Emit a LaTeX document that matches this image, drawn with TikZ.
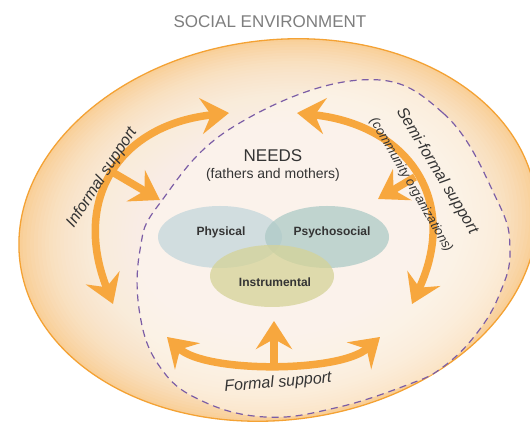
\documentclass[tikz,border=0pt]{standalone}
\usepackage{fontspec}
\setmainfont{Liberation Sans}
\usetikzlibrary{arrows.meta}

\definecolor{envline}{HTML}{F4A234}
\definecolor{envedge}{HTML}{F9CF98}
\definecolor{envcore}{HTML}{FEF9F2}
\definecolor{supportcol}{HTML}{F7A73E}
\definecolor{dashcol}{HTML}{7B5DA6}
\definecolor{physcol}{HTML}{C3D6DC}
\definecolor{psycol}{HTML}{ADCAC6}
\definecolor{instcol}{HTML}{D5D398}
\definecolor{inkcol}{HTML}{343434}
\definecolor{titlecol}{HTML}{7E7E7E}

\tikzset{
  support/.style={line width=7.5pt, color=supportcol},
  >={Stealth[length=28pt,width=36pt,inset=10pt]},
  needbubble/.style={fill opacity=0.75, draw=none},
  needlabel/.style={font=\bfseries\fontsize{12}{14}\selectfont, text=inkcol},
  supportlabel/.style={font=\itshape\fontsize{16}{18}\selectfont, text=inkcol},
}

\begin{document}
\begin{tikzpicture}[x=1pt, y=1pt]
\useasboundingbox[fill=white] (0,0) rectangle (530,425);
% social environment
\begin{scope}[shift={(278,195)}, rotate=7]
\fill[envedge] (0,0) ellipse [x radius=260, y radius=190];
\foreach \k in {1,...,36}
  \fill[envcore, fill opacity=0.075] (0,0) ellipse [x radius={260*(1-0.0145*\k)}, y radius={190*(1-0.0145*\k)}];
\draw[envline, line width=1.3pt] (0,0) ellipse [x radius=260, y radius=190];
\end{scope}
\node[font=\fontsize{17}{20}\selectfont, text=titlecol] (title) at (270,403) {SOCIAL ENVIRONMENT};
% family circle
\draw[dashcol, line width=1.2pt, dash pattern=on 7pt off 5pt, fill=envcore, fill opacity=0.5]
  plot[smooth cycle, tension=0.7] coordinates {(360,345) (443,312) (497,225) (510,175) (500,132) (477,92) (443,58) (407,40) (335,17) (265,8) (200,25) (160,58) (140,110) (140,175) (160,222) (233,298)};
% needs
\fill[needbubble, physcol] (220,188) ellipse [x radius=62, y radius=31];
\fill[needbubble, psycol] (327,188) ellipse [x radius=62, y radius=31];
\fill[needbubble, instcol] (272,149) ellipse [x radius=62, y radius=31];
\node[font=\fontsize{17}{20}\selectfont, text=inkcol] (needs) at (273,269) {NEEDS};
\node[font=\fontsize{14}{16}\selectfont, text=inkcol] (parents) at (273,250) {(fathers and mothers)};
\node[needlabel] (physical) at (221,193) {Physical};
\node[needlabel] (psychosocial) at (332,193) {Psychosocial};
\node[needlabel] (instrumental) at (275,143) {Instrumental};
% arrow ends
\coordinate (inf-top) at (229,312);
\coordinate (inf-bot) at (113,121);
\coordinate (inf-fork) at (114,252);
\coordinate (inf-tip) at (160,225);
\coordinate (semi-top) at (297,312);
\coordinate (semi-bot) at (412,121);
\coordinate (semi-fork) at (415,248);
\coordinate (semi-tip) at (378,226);
\coordinate (form-left) at (167,88);
\coordinate (form-right) at (380,88);
\coordinate (form-fork) at (274,60);
\coordinate (form-tip) at (274,104);
% informal
\draw[support, <->] (inf-bot) .. controls (72,225) and (118,300) .. (inf-top);
\draw[support, ->] (inf-fork) -- (inf-tip);
% semi-formal
\draw[support, <->] (semi-top) .. controls (408,300) and (460,225) .. (semi-bot);
\draw[support, ->] (semi-fork) -- (semi-tip);
% formal
\draw[support, <->] (form-left) .. controls (205,52) and (340,52) .. (form-right);
\draw[support, ->] (form-fork) -- (form-tip);
% labels
\node[supportlabel, rotate=57] (informal) at (102,247) {Informal support};
\node[supportlabel, rotate=-59] (semiformal) at (437,254) {Semi-formal support};
\node[font=\itshape\fontsize{13}{16}\selectfont, text=inkcol, rotate=-60] (community) at (411,240) {(community organizations)};
\node[supportlabel, rotate=5] (formal) at (278,42) {Formal support};
\end{tikzpicture}
\end{document}
